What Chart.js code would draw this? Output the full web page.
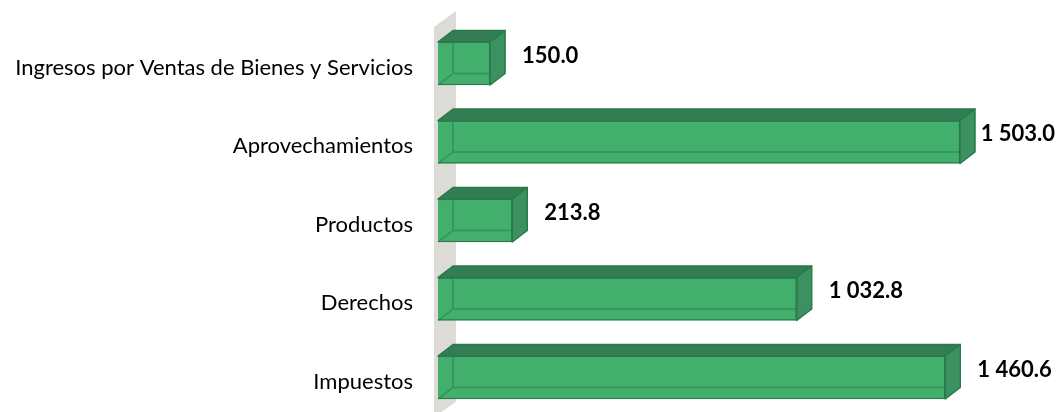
<!DOCTYPE html>
<html><head><meta charset="utf-8">
<script src="https://cdn.jsdelivr.net/npm/chart.js@4.4.1/dist/chart.umd.min.js"></script>
<style>html,body{margin:0;padding:0;background:#fff}#wrap{width:1057px;height:412px;position:relative}</style>
</head><body><div id="wrap"><canvas id="c"></canvas></div>
<script>
const categories = ["Ingresos por Ventas de Bienes y Servicios", "Aprovechamientos", "Productos", "Derechos", "Impuestos"];
const values = [150.0, 1503.0, 213.8, 1032.8, 1460.6];
const axisMin = 0;
const axisMax = 1700;

const DX = 15, DY = 11.5;
const FRONT = '#42AF6D';
const TOP = '#337D55';
const SIDE = '#3B915F';
const EDGE = '#2A7A4A';
const INNER = 'rgba(40,120,72,0.55)';
const WALL = '#DDDBD6';
const FONT = 'Lato, "Open Sans", sans-serif';

function fmt(v) {
  const parts = v.toFixed(1).split('.');
  parts[0] = parts[0].replace(/\B(?=(\d{3})+(?!\d))/g, ' ');
  return parts.join('.');
}

const bar3d = {
  id: 'bar3d',
  beforeDatasetsDraw(chart) {
    const ctx = chart.ctx;
    const meta = chart.getDatasetMeta(0);
    const x0 = chart.scales.x.getPixelForValue(0);
    const first = meta.data[0], last = meta.data[meta.data.length - 1];
    const wl = x0 - 4, wr = x0 + 18;
    const topL = first.y - 36.5, topR = topL - 16;
    const botL = last.y + 40, botR = botL - 16;
    ctx.save();
    ctx.fillStyle = WALL;
    ctx.beginPath();
    ctx.moveTo(wl, topL); ctx.lineTo(wr, topR); ctx.lineTo(wr, botR); ctx.lineTo(wl, botL);
    ctx.closePath(); ctx.fill();
    ctx.restore();
  },
  afterDatasetsDraw(chart) {
    const ctx = chart.ctx;
    const meta = chart.getDatasetMeta(0);
    ctx.save();
    ctx.lineJoin = 'round';
    meta.data.forEach((el, i) => {
      const p = el.getProps(['x', 'y', 'base', 'height'], true);
      const l = p.base, r = p.x, t = p.y - p.height / 2, b = p.y + p.height / 2;
      // back hidden edges
      ctx.strokeStyle = INNER; ctx.lineWidth = 1.5;
      ctx.beginPath();
      ctx.moveTo(l + DX, t - DY); ctx.lineTo(l + DX, b - DY); ctx.lineTo(r + DX, b - DY);
      ctx.moveTo(l, b); ctx.lineTo(l + DX, b - DY);
      ctx.stroke();
      // top face
      ctx.fillStyle = TOP; ctx.strokeStyle = EDGE; ctx.lineWidth = 1.5;
      ctx.beginPath();
      ctx.moveTo(l, t); ctx.lineTo(l + DX, t - DY); ctx.lineTo(r + DX, t - DY); ctx.lineTo(r, t); ctx.closePath();
      ctx.fill(); ctx.stroke();
      // side face
      ctx.fillStyle = SIDE;
      ctx.beginPath();
      ctx.moveTo(r, t); ctx.lineTo(r + DX, t - DY); ctx.lineTo(r + DX, b - DY); ctx.lineTo(r, b); ctx.closePath();
      ctx.fill(); ctx.stroke();
      // value label
      ctx.font = 'bold 22px ' + FONT;
      ctx.fillStyle = '#000';
      ctx.textBaseline = 'middle';
      ctx.textAlign = 'left';
      const txt = fmt(values[i]);
      const w = ctx.measureText(txt).width;
      let tx = r + DX + 17;
      if (tx + w > chart.width - 2) tx = chart.width - 2 - w;
      ctx.fillText(txt, tx, p.y - 8);
    });
    ctx.restore();
  }
};

const pxPerUnit = 522 / 1503;
const leftEdge = 438;

new Chart(document.getElementById('c'), {
  type: 'bar',
  data: {
    labels: categories,
    datasets: [{
      data: values,
      backgroundColor: FRONT,
      borderColor: EDGE,
      borderWidth: 1.5,
      barThickness: 43,
      clip: false
    }]
  },
  options: {
    indexAxis: 'y',
    responsive: true,
    maintainAspectRatio: false,
    animation: false,
    layout: { padding: { left: 0, right: 1057 - leftEdge - (axisMax - axisMin) * pxPerUnit, top: 63.5, bottom: 34.5 } },
    plugins: { legend: { display: false }, tooltip: { enabled: false } },
    scales: {
      x: { display: false, min: axisMin, max: axisMax },
      y: {
        offset: false,
        grid: { display: false },
        border: { display: false },
        ticks: { color: '#000', padding: 17, labelOffset: 4, font: { family: FONT, size: 22 } },
        afterFit(scale) { scale.width = leftEdge; }
      }
    }
  },
  plugins: [bar3d]
});
</script></body></html>
